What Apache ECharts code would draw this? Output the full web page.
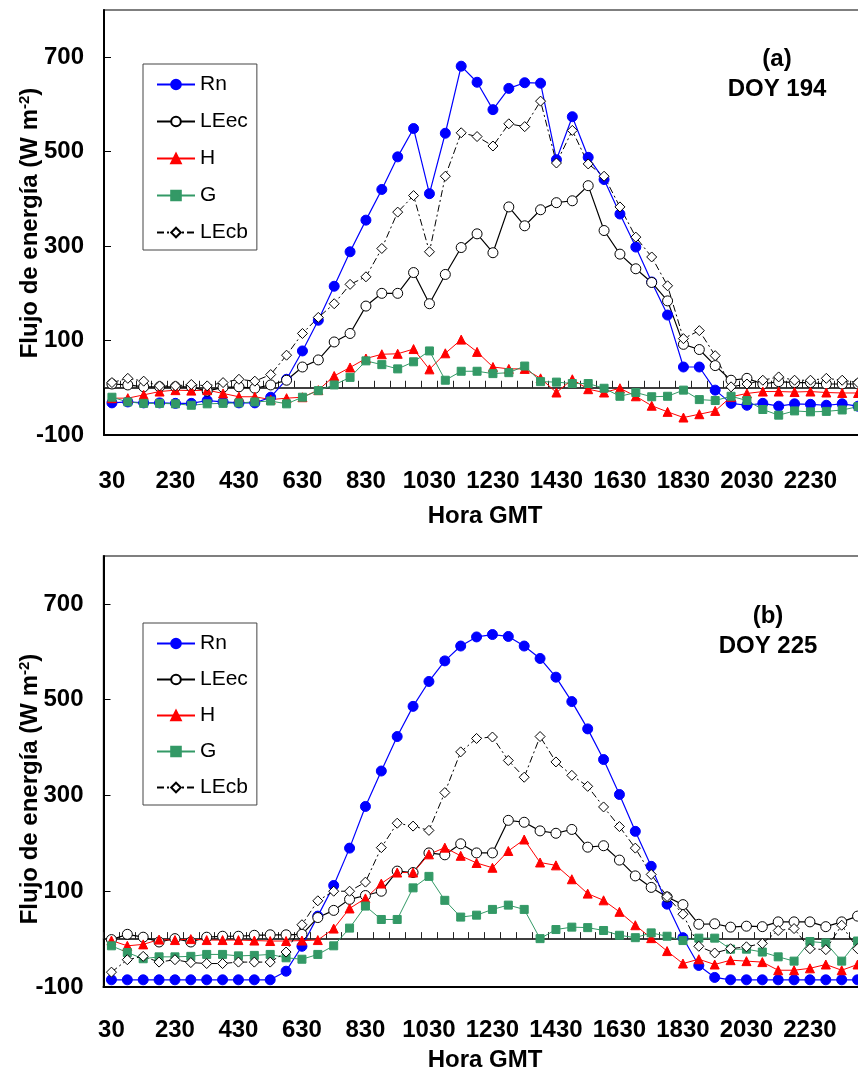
<!DOCTYPE html>
<html>
<head>
<meta charset="utf-8">
<script src="https://cdn.jsdelivr.net/npm/echarts@6/dist/echarts.min.js"></script>
<style>
  html, body { margin: 0; padding: 0; background: #fff; }
  #chart { width: 858px; height: 1073px; }
</style>
</head>
<body>
<div id="chart"></div>
<script>
// Half-hourly time stamps (GMT), 00:30 to 24:00
const horas = ['30','100','130','200','230','300','330','400','430','500','530','600',
  '630','700','730','800','830','900','930','1000','1030','1100','1130','1200',
  '1230','1300','1330','1400','1430','1500','1530','1600','1630','1700','1730','1800',
  '1830','1900','1930','2000','2030','2100','2130','2200','2230','2300','2330','2400'];

// (a) DOY 194 energy fluxes, W m-2
const rnA   = [-32,-30,-32,-32,-33,-33,-27,-30,-32,-32,-20,18,78,143,215,288,355,420,489,549,
  411,539,681,647,589,634,646,645,483,574,488,441,368,298,224,154,44,44,-5,-33,
  -37,-33,-39,-34,-35,-37,-34,-39];
const leecA = [8,6,2,2,2,2,-7,1,2,-1,6,16,44,59,97,115,173,200,200,244,
  178,240,297,326,286,383,343,377,392,396,428,333,283,252,223,184,92,81,47,16,
  20,8,13,11,11,8,8,8];
const hA    = [-22,-22,-15,-8,-5,-6,-5,-12,-19,-19,-25,-22,-20,-5,25,43,62,71,72,82,
  39,73,102,76,44,40,40,20,-10,18,-3,-10,-1,-18,-38,-51,-63,-56,-49,-19,
  -12,-8,-8,-9,-8,-10,-11,-11];
const gA    = [-20,-30,-33,-33,-34,-37,-34,-33,-32,-30,-28,-34,-20,-6,6,22,57,49,40,55,
  78,16,35,35,30,32,46,13,12,9,9,-1,-18,-10,-19,-18,-5,-25,-27,-18,
  -27,-46,-58,-49,-51,-50,-47,-40];
const lecbA = [11,20,14,4,4,7,4,11,18,14,28,69,115,149,178,219,235,295,372,407,
  288,448,540,532,512,559,553,607,476,545,474,448,383,319,277,216,104,121,68,2,
  8,16,23,16,16,20,16,11];

// (b) DOY 225 energy fluxes, W m-2
const rnB   = [-85,-85,-85,-85,-85,-85,-85,-85,-85,-85,-85,-67,-15,48,112,190,277,351,423,486,
  538,581,612,631,636,632,612,586,547,496,439,375,302,225,152,73,3,-55,-80,-85,
  -85,-85,-85,-85,-85,-85,-85,-85];
const leecB = [-1,10,4,-6,1,-6,4,6,6,8,9,9,10,45,60,83,91,100,142,139,
  180,176,199,180,180,248,244,226,221,229,192,195,165,132,108,88,72,31,32,25,
  27,26,36,36,36,26,36,48];
const hB    = [-3,-14,-11,-1,-2,0,-2,-2,-2,-3,-4,-4,-3,-2,22,64,85,116,139,139,
  177,191,174,159,149,184,208,160,154,125,95,81,57,29,2,-25,-51,-42,-53,-44,
  -46,-48,-65,-65,-61,-53,-65,-53];
const gB    = [-14,-28,-41,-37,-37,-36,-32,-32,-35,-34,-32,-39,-42,-32,-14,23,69,41,41,107,
  131,81,46,50,62,71,62,1,20,25,24,18,8,3,13,6,-3,2,2,-21,
  -21,-27,-37,-46,-5,-8,-46,-4];
const lecbB = [-69,-43,-36,-48,-43,-49,-51,-51,-48,-48,-48,-27,30,80,100,100,119,191,242,236,
  227,306,391,419,422,373,338,423,370,342,319,276,235,190,135,89,52,-15,-29,-20,
  -16,-9,18,22,-20,-22,29,-20];

const nombres = ['Rn', 'LEec', 'H', 'G', 'LEcb'];
const panelA = [rnA, leecA, hA, gA, lecbA];
const panelB = [rnB, leecB, hB, gB, lecbB];

const FONT = 'Arial, "Liberation Sans", sans-serif';

// marker / line look of each flux
const estilos = {
  Rn:   { line: '#0000ff', fill: '#0000ff', symbol: 'circle',   size: 10, width: 1.2, type: 'solid' },
  LEec: { line: '#000000', fill: '#ffffff', symbol: 'circle',   size: 10, width: 1.2, type: 'solid' },
  H:    { line: '#ff0000', fill: '#ff0000', symbol: 'triangle', size: 9,  width: 1,   type: 'solid' },
  G:    { line: '#339966', fill: '#339966', symbol: 'rect',     size: 8,  width: 1,   type: 'solid' },
  LEcb: { line: '#000000', fill: '#ffffff', symbol: 'diamond',  size: 10, width: 1,   type: [7, 3, 2, 3] }
};

function serie(name, data, xIdx, yIdx) {
  const e = estilos[name];
  return {
    name, type: 'line', data,
    xAxisIndex: xIdx, yAxisIndex: yIdx,
    symbol: e.symbol, symbolSize: e.size, showAllSymbol: true,
    itemStyle: { color: e.fill, borderColor: e.line, borderWidth: 1 },
    lineStyle: { color: e.line, width: e.width, type: e.type },
    emphasis: { disabled: true },
    animation: false
  };
}

const grids = [
  { left: 104, top: 10, width: 762, height: 425 },
  { left: 103.5, top: 556, width: 762, height: 431 }
];

function ejeX(gi, margin) {
  return [
    { // bottom axis carrying the time labels
      gridIndex: gi, type: 'category', data: horas, position: 'bottom',
      axisLine: { onZero: false, lineStyle: { color: '#000', width: 2 } },
      axisTick: { show: false },
      axisLabel: { interval: 3, margin, color: '#000', fontSize: 24, fontWeight: 'bold', fontFamily: FONT },
      splitLine: { show: false }
    },
    { // zero line with a tick per half hour
      gridIndex: gi, type: 'category', data: horas, position: 'bottom',
      axisLine: { onZero: true, lineStyle: { color: '#000', width: 1.5 } },
      axisTick: { show: true, inside: true, length: 7, interval: 0, lineStyle: { color: '#222', width: 1 } },
      axisLabel: { show: false },
      splitLine: { show: false }
    }
  ];
}

function ejeY(gi) {
  return {
    gridIndex: gi, type: 'value', min: -100, max: 800, interval: 200,
    axisLine: { show: true, onZero: false, lineStyle: { color: '#000', width: 2 } },
    axisTick: { show: true, inside: true, length: 7, lineStyle: { color: '#000', width: 1 } },
    axisLabel: { margin: 20, color: '#000', fontSize: 24, fontWeight: 'bold', fontFamily: FONT, showMaxLabel: false },
    splitLine: { show: false }
  };
}

function leyenda(top, gap) {
  return {
    orient: 'vertical', left: 143, top,
    data: nombres,
    itemWidth: 38, itemHeight: 12, itemGap: gap,
    padding: [10, 9, 7, 13],
    borderColor: '#444', borderWidth: 1, backgroundColor: '#fff',
    textStyle: { color: '#000', fontSize: 21, fontFamily: FONT },
    selectedMode: false
  };
}

function tituloY(cx, cy) {
  return {
    type: 'text', x: cx, y: cy, rotation: Math.PI / 2,
    style: {
      text: '{t|Flujo de energía (W m}{s|-2}{t|)}',
      align: 'center', verticalAlign: 'middle',
      textAlign: 'center', textVerticalAlign: 'middle',
      rich: {
        t: { fontSize: 24, fontWeight: 'bold', fontFamily: FONT, fill: '#000', color: '#000', lineHeight: 26 },
        s: { fontSize: 15, fontWeight: 'bold', fontFamily: FONT, fill: '#000', color: '#000', verticalAlign: 'top', lineHeight: 15 }
      }
    }
  };
}

function texto(str, cx, cy) {
  return {
    type: 'text', x: cx, y: cy,
    style: {
      text: str, fill: '#000', font: 'bold 24px ' + FONT,
      align: 'center', verticalAlign: 'middle',
      textAlign: 'center', textVerticalAlign: 'middle'
    }
  };
}

const series = [];
nombres.forEach((n, k) => series.push(serie(n, panelA[k], 0, 0)));
nombres.forEach((n, k) => series.push(serie(n, panelB[k], 2, 1)));

const chart = echarts.init(document.getElementById('chart'), null, { renderer: 'canvas' });
chart.setOption({
  backgroundColor: '#fff',
  animation: false,
  grid: grids.map(g => Object.assign({
    containLabel: false, outerBoundsMode: 'none',
    show: true, borderColor: '#555', borderWidth: 1.5, backgroundColor: 'transparent'
  }, g)),
  xAxis: [...ejeX(0, 34), ...ejeX(1, 31)],
  yAxis: [ejeY(0), ejeY(1)],
  legend: [leyenda(64, 16), leyenda(623, 15)],
  graphic: [
    tituloY(30, 223),
    tituloY(30, 789),
    texto('Hora GMT', 485, 516),
    texto('Hora GMT', 485, 1060),
    texto('(a)', 777, 59),
    texto('DOY 194', 777, 89),
    texto('(b)', 768, 616),
    texto('DOY 225', 768, 646)
  ],
  series
});
</script>
</body>
</html>
